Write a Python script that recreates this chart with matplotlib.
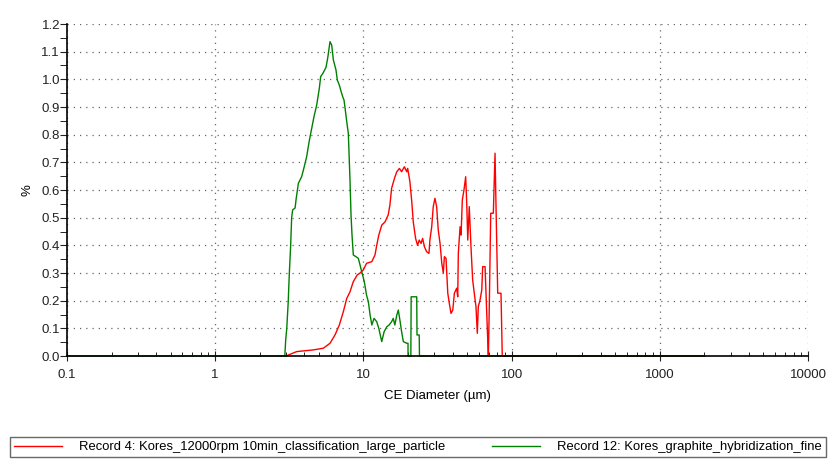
import matplotlib
matplotlib.use("Agg")
import matplotlib.pyplot as plt
from matplotlib.ticker import FixedLocator, FuncFormatter, MultipleLocator, LogLocator, NullFormatter

plt.rcParams['font.family'] = ['Liberation Sans', 'DejaVu Sans']

# Record 4 (red) - CE diameter (um) and volume %
red_d = [3.0, 3.55, 4.59, 5.36, 5.95, 6.43, 6.88, 7.32, 7.72, 8.12, 8.55, 9.09, 9.49,
         9.98, 10.5, 11.4, 11.97, 12.3, 12.7, 13.3, 14.0, 14.7, 15.1, 15.5, 16.2, 16.8,
         17.5, 18.1, 18.9, 19.6, 19.9, 20.6, 21.2, 21.7, 22.5, 23.2, 23.8, 24.5, 25.1,
         25.8, 26.7, 27.7, 28.1, 28.9, 29.6, 30.4, 31.2, 32.0, 32.9, 33.8, 34.6, 35.2,
         36.1, 37.1, 38.0, 39.0, 40.1, 41.1, 42.6, 43.3, 43.7, 44.9, 45.6, 46.5, 47.7,
         49.0, 49.8, 50.6, 51.8, 53.2, 54.6, 56.0, 57.5, 58.7, 59.6, 61.2, 62.9, 63.8,
         66.2, 67.2, 69.0, 69.7, 70.7, 72.3, 75.3, 77.3, 78.5, 80.6, 84.8, 86.5, 2000]
red_v = [0.0, 0.016, 0.022, 0.028, 0.046, 0.076, 0.112, 0.16, 0.208, 0.232, 0.269, 0.293, 0.30,
         0.311, 0.335, 0.341, 0.365, 0.40, 0.437, 0.473, 0.485, 0.51, 0.546, 0.606, 0.642, 0.666,
         0.678, 0.666, 0.684, 0.666, 0.678, 0.63, 0.558, 0.485, 0.425, 0.40, 0.419, 0.407, 0.425,
         0.395, 0.377, 0.371, 0.419, 0.467, 0.54, 0.57, 0.54, 0.455, 0.407, 0.335, 0.30, 0.359,
         0.353, 0.227, 0.19, 0.154, 0.166, 0.227, 0.245, 0.214, 0.371, 0.467, 0.437, 0.564, 0.60,
         0.648, 0.552, 0.419, 0.54, 0.395, 0.275, 0.227, 0.178, 0.082, 0.178, 0.202, 0.238, 0.323,
         0.323, 0.227, 0.058, 0.0, 0.178, 0.516, 0.516, 0.733, 0.54, 0.227, 0.227, 0.0, 0.0]

# Record 12 (green)
green_d = [0.1, 2.95, 2.99, 3.04, 3.11, 3.16, 3.23, 3.28, 3.33, 3.46, 3.51, 3.64, 3.83, 3.97,
           4.14, 4.32, 4.48, 4.64, 4.84, 5.04, 5.15, 5.36, 5.59, 5.74, 5.95, 6.11, 6.27, 6.53,
           6.67, 6.88, 7.03, 7.25, 7.40, 7.55, 7.72, 7.91, 8.0, 8.12, 8.25, 8.38, 8.55, 8.91,
           9.24, 9.49, 9.74, 10.14, 10.5, 10.8, 11.1, 11.4, 11.8, 12.3, 12.7, 13.3, 13.8, 14.4,
           14.9, 15.5, 15.9, 16.3, 16.8, 17.2, 17.7, 18.1, 18.6, 19.6, 20.0, 20.0, 20.9, 21.0,
           22.9, 23.0, 23.8, 23.9, 2000]
green_v = [0.0, 0.0, 0.058, 0.10, 0.196, 0.293, 0.40, 0.50, 0.528, 0.535, 0.564, 0.624, 0.648, 0.68,
           0.72, 0.78, 0.823, 0.865, 0.907, 0.967, 1.01, 1.024, 1.043, 1.076, 1.136, 1.124, 1.07, 1.034,
           0.997, 0.979, 0.961, 0.937, 0.925, 0.889, 0.847, 0.805, 0.733, 0.636, 0.51, 0.437, 0.365, 0.359,
           0.353, 0.329, 0.305, 0.269, 0.22, 0.196, 0.148, 0.112, 0.136, 0.124, 0.10, 0.052, 0.088, 0.106,
           0.112, 0.124, 0.136, 0.112, 0.148, 0.166, 0.124, 0.088, 0.052, 0.046, 0.046, 0.0, 0.0, 0.214,
           0.214, 0.076, 0.076, 0.0, 0.0]

x_ticks = [0.1, 1, 10, 100, 1000, 10000]

fig = plt.figure(figsize=(8.38, 4.69), dpi=100)
ax = fig.add_axes([67 / 838, 1 - 356 / 469, 741 / 838, 332 / 469])

ax.plot(red_d, red_v, color='#ff0000', linewidth=1.0, clip_on=False,
        label='Record 4: Kores_12000rpm 10min_classification_large_particle')
ax.plot(green_d, green_v, color='#008000', linewidth=1.0, clip_on=False,
        label='Record 12: Kores_graphite_hybridization_fine')

ax.set_xscale('log')
ax.set_xlim(0.1, 10000)
ax.set_ylim(0, 1.2)
ax.xaxis.set_major_locator(FixedLocator(x_ticks))
ax.xaxis.set_major_formatter(FuncFormatter(lambda v, p: '%g' % v))
ax.xaxis.set_minor_locator(LogLocator(base=10, subs=range(2, 10), numticks=20))
ax.xaxis.set_minor_formatter(NullFormatter())
ax.yaxis.set_major_locator(MultipleLocator(0.1))
ax.yaxis.set_minor_locator(MultipleLocator(0.05))
ax.yaxis.set_major_formatter(FuncFormatter(lambda v, p: '%.1f' % v))

ax.grid(True, which='major', linestyle=(0, (1, 4)), color='#666666', linewidth=0.9)
for s in ['top', 'right']:
    ax.spines[s].set_visible(False)
ax.spines['left'].set_linewidth(1.2)
ax.spines['bottom'].set_linewidth(1.2)

ax.tick_params(axis='y', which='major', direction='out', length=5, labelsize=9.5,
               colors='#222222', pad=0)
ax.tick_params(axis='y', which='minor', direction='out', length=5)
ax.tick_params(axis='x', which='major', direction='inout', length=7, labelsize=9.5,
               colors='#222222', pad=6)
ax.tick_params(axis='x', which='minor', direction='in', length=3)

ax.set_xlabel('CE Diameter (µm)', fontsize=9.5, labelpad=6)
ax.set_ylabel('%', fontsize=9.5, labelpad=6)

leg = fig.legend(loc='lower left', bbox_to_anchor=(10 / 838, 1 - 457 / 469, 816 / 838, 21 / 469),
                 mode='expand', ncol=2, fontsize=9.4, handlelength=3.7, frameon=True,
                 fancybox=False, borderaxespad=0, borderpad=0.3, handletextpad=1.3)
leg.get_frame().set_edgecolor('#444444')
leg.get_frame().set_linewidth(1.0)

fig.savefig('out.png', dpi=100)
